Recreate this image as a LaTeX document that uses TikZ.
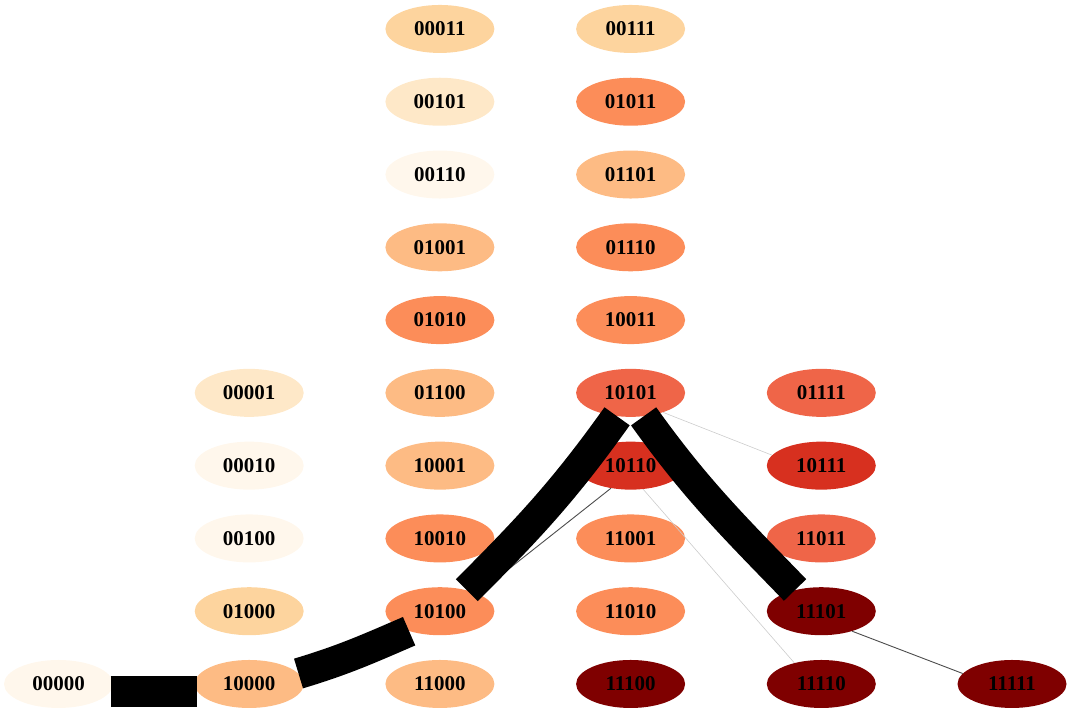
\documentclass[tikz,border=0pt]{standalone}
\usepackage{fontspec}
\setmainfont{Liberation Serif}
\usetikzlibrary{shapes.geometric}
\definecolor{lvA}{HTML}{FFF7EC}
\definecolor{lvB}{HTML}{FEE8C8}
\definecolor{lvC}{HTML}{FDD49E}
\definecolor{lvD}{HTML}{FDBB84}
\definecolor{lvE}{HTML}{FC8D59}
\definecolor{lvF}{HTML}{EF6548}
\definecolor{lvG}{HTML}{D7301F}
\definecolor{lvH}{HTML}{7F0000}
\tikzset{
  state/.style={ellipse,minimum width=109pt,minimum height=48pt,inner sep=0pt,
    font=\fontsize{21}{25}\selectfont\bfseries},
  heavyedge/.style={line width=31pt,line cap=butt},
  thinedge/.style={line width=0.9pt,black!70},
  faintedge/.style={line width=0.6pt,black!20}
}
\begin{document}
\begin{tikzpicture}[x=190.7pt,y=72.78pt]
\useasboundingbox (-0.3068,-0.4122) rectangle (5.3146,9.398);

\node[state,fill=lvA] (n00000) at (0,0) {00000};

\node[state,fill=lvD] (n10000) at (1,0) {10000};
\node[state,fill=lvC] (n01000) at (1,1) {01000};
\node[state,fill=lvA] (n00100) at (1,2) {00100};
\node[state,fill=lvA] (n00010) at (1,3) {00010};
\node[state,fill=lvB] (n00001) at (1,4) {00001};

\node[state,fill=lvD] (n11000) at (2,0) {11000};
\node[state,fill=lvE] (n10100) at (2,1) {10100};
\node[state,fill=lvE] (n10010) at (2,2) {10010};
\node[state,fill=lvD] (n10001) at (2,3) {10001};
\node[state,fill=lvD] (n01100) at (2,4) {01100};
\node[state,fill=lvE] (n01010) at (2,5) {01010};
\node[state,fill=lvD] (n01001) at (2,6) {01001};
\node[state,fill=lvA] (n00110) at (2,7) {00110};
\node[state,fill=lvB] (n00101) at (2,8) {00101};
\node[state,fill=lvC] (n00011) at (2,9) {00011};

\node[state,fill=lvH] (n11100) at (3,0) {11100};
\node[state,fill=lvE] (n11010) at (3,1) {11010};
\node[state,fill=lvE] (n11001) at (3,2) {11001};
\node[state,fill=lvG] (n10110) at (3,3) {10110};
\node[state,fill=lvF] (n10101) at (3,4) {10101};
\node[state,fill=lvE] (n10011) at (3,5) {10011};
\node[state,fill=lvE] (n01110) at (3,6) {01110};
\node[state,fill=lvD] (n01101) at (3,7) {01101};
\node[state,fill=lvE] (n01011) at (3,8) {01011};
\node[state,fill=lvC] (n00111) at (3,9) {00111};

\node[state,fill=lvH] (n11110) at (4,0) {11110};
\node[state,fill=lvH] (n11101) at (4,1) {11101};
\node[state,fill=lvF] (n11011) at (4,2) {11011};
\node[state,fill=lvG] (n10111) at (4,3) {10111};
\node[state,fill=lvF] (n01111) at (4,4) {01111};

\node[state,fill=lvH] (n11111) at (5,0) {11111};

\draw[thinedge] (n10110.-131) -- (n10100.25);
\draw[faintedge] (n10101.-31) -- (n10111.168);
\draw[faintedge] (n10110.-62) -- (n11110.142);
\draw[thinedge] (n11101.-33) -- (n11111.168);

\draw[heavyedge] (n00000.-8.5) -- (n10000.188.5);
\draw[heavyedge] (n10000.12.5) to[out=16.7,in=203.4] (n10100.-147.4);
\draw[heavyedge] (n10100.38.8) to[out=45,in=-125.5] (n10101.-120);
\draw[heavyedge] (n10101.-61) to[out=-54.4,in=134.1] (n11101.141);
\end{tikzpicture}
\end{document}
